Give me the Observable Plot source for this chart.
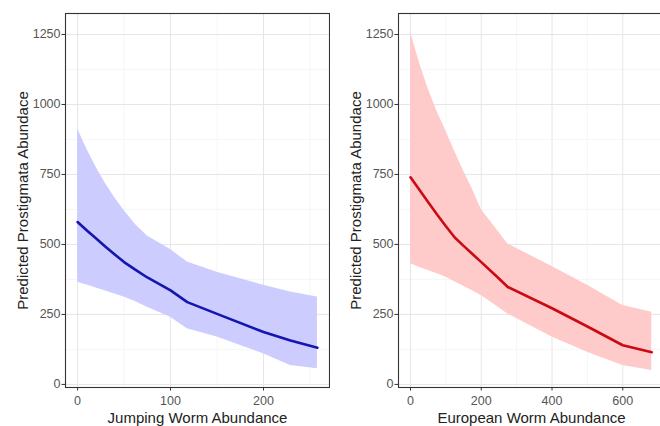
<!DOCTYPE html>
<html>
<head>
<meta charset="utf-8">
<script src="https://cdn.jsdelivr.net/npm/d3@7"></script>
<script src="https://cdn.jsdelivr.net/npm/@observablehq/plot@0.6"></script>
<style>
  html, body { margin: 0; padding: 0; background: #fff; overflow: hidden; }
  #wrap { display: flex; width: 660px; height: 426px; overflow: hidden; }
  #wrap svg { flex: none; display: block; }
</style>
</head>
<body>
<div id="wrap"></div>
<script>
// Jumping worm panel
const jumpX     = [0, 10, 20, 30, 40, 50, 62, 75, 100, 118, 150, 200, 229, 258];
const jumpFit   = [580, 550, 521, 492, 464, 437, 410, 382, 336, 294, 252, 187, 157, 131];
const jumpUpper = [913, 840, 775, 718, 667, 621, 572, 530, 482, 437, 401, 354, 330, 312];
const jumpLower = [365, 355, 344, 334, 323, 312, 296, 276, 240, 199, 169, 110, 68, 56];

// European worm panel
const euroX     = [0, 25, 50, 75, 100, 125, 150, 175, 200, 240, 275, 400, 500, 600, 682];
const euroFit   = [740, 695, 651, 607, 565, 525, 495, 466, 437, 390, 348, 272, 207, 140, 115];
const euroUpper = [1258, 1150, 1055, 975, 905, 832, 762, 697, 625, 560, 502, 421, 354, 282, 258];
const euroLower = [431, 419, 407, 395, 383, 367, 351, 335, 318, 283, 252, 169, 115, 68, 50];

const yTicks = [0, 250, 500, 750, 1000, 1250];
const yMinor = [125, 375, 625, 875, 1125];
const jumpTicks = [0, 100, 200];
const jumpMinor = [50, 150, 250];
const euroTicks = [0, 200, 400, 600];
const euroMinor = [100, 300, 500];

const yTitle = "Predicted Prostigmata Abundace";
const jumpTitle = "Jumping Worm Abundance";
const euroTitle = "European Worm Abundance";

function panel({xs, fit, upper, lower, xDomain, xTicks, xMinor, xTitle, band, line, width, marginLeft, marginRight}) {
  const rows = xs.map((x, i) => ({x, fit: fit[i], lo: lower[i], hi: upper[i]}));
  return Plot.plot({
    width, height: 426,
    marginLeft, marginRight, marginTop: 13, marginBottom: 39,
    style: {fontFamily: "'Liberation Sans', Arial, sans-serif", background: "#fff"},
    x: {domain: xDomain},
    y: {domain: [-11, 1325]},
    marks: [
      Plot.ruleX(xMinor, {stroke: "#f0f0f0", strokeWidth: 0.6}),
      Plot.ruleY(yMinor, {stroke: "#f0f0f0", strokeWidth: 0.6}),
      Plot.ruleX(xTicks, {stroke: "#e6e6e6", strokeWidth: 1}),
      Plot.ruleY(yTicks, {stroke: "#e6e6e6", strokeWidth: 1}),
      Plot.areaY(rows, {x: "x", y1: "lo", y2: "hi", fill: band}),
      Plot.line(rows, {x: "x", y: "fit", stroke: line, strokeWidth: 2.6}),
      Plot.frame({stroke: "#333", strokeWidth: 1.1}),
      Plot.axisX({ticks: xTicks, tickFormat: d => String(d), tickSize: 3.5, tickPadding: 5, fontSize: 12.5, color: "#555", stroke: "#333", label: null}),
      Plot.axisY({ticks: yTicks, tickFormat: d => String(d), tickSize: 3.5, tickPadding: 1.5, fontSize: 12.5, color: "#555", stroke: "#333", label: null}),
      Plot.text([xTitle], {frameAnchor: "bottom", dy: 31, lineAnchor: "middle", textAnchor: "middle", fontSize: 15, fill: "#222", text: d => d}),
      Plot.text([yTitle], {frameAnchor: "left", dx: -42, rotate: -90, lineAnchor: "middle", textAnchor: "middle", fontSize: 15, fill: "#222", text: d => d})
    ]
  });
}

const wrap = document.getElementById("wrap");
wrap.append(panel({
  xs: jumpX, fit: jumpFit, upper: jumpUpper, lower: jumpLower,
  xDomain: [-13, 271], xTicks: jumpTicks, xMinor: jumpMinor, xTitle: jumpTitle,
  band: "#ccccff", line: "#1515b0", width: 330, marginLeft: 65, marginRight: 1
}));
wrap.append(panel({
  xs: euroX, fit: euroFit, upper: euroUpper, lower: euroLower,
  xDomain: [-34, 718], xTicks: euroTicks, xMinor: euroMinor, xTitle: euroTitle,
  band: "#ffcaca", line: "#cc0a14", width: 334, marginLeft: 68, marginRight: 0
}));
</script>
</body>
</html>
